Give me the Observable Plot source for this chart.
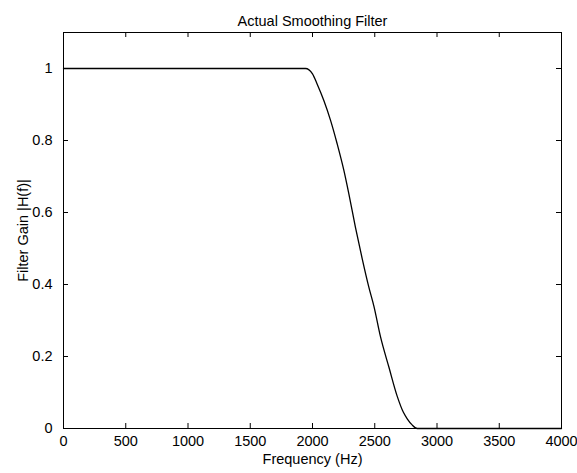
<!DOCTYPE html>
<html><head><meta charset="utf-8">
<script src="https://cdn.jsdelivr.net/npm/d3@7"></script>
<script src="https://cdn.jsdelivr.net/npm/@observablehq/plot@0.6"></script>
<style>html,body{margin:0;padding:0;background:#fff} svg{display:block}</style>
</head><body><div id="chart"></div>
<script>
const title = "Actual Smoothing Filter";
const xLabel = "Frequency (Hz)";
const yLabel = "Filter Gain |H(f)|";
const frequency = [0, 500, 1000, 1500, 1944, 2000, 2037, 2091, 2145, 2198, 2252, 2292, 2345, 2399, 2453, 2493, 2546, 2614, 2680, 2730, 2761, 2800, 2841, 3000, 3500, 4000];
const gain      = [1, 1, 1, 1, 1, 0.985, 0.957, 0.911, 0.856, 0.791, 0.717, 0.652, 0.559, 0.472, 0.392, 0.340, 0.255, 0.170, 0.090, 0.045, 0.027, 0.010, 0, 0, 0, 0];
const xTicks = [0, 500, 1000, 1500, 2000, 2500, 3000, 3500, 4000];
const yTicks = [0, 0.2, 0.4, 0.6, 0.8, 1];
const xDomain = [0, 4000];
const yDomain = [0, 1.1];

const data = frequency.map((f, i) => ({f, g: gain[i]}));
const font = "'Liberation Sans', Arial, Helvetica, sans-serif";

const chart = Plot.plot({
  width: 577, height: 473,
  marginLeft: 63, marginRight: 16, marginTop: 32, marginBottom: 45,
  style: {fontFamily: font, fontSize: "14.5px", color: "#000", background: "#fff", overflow: "visible"},
  x: {domain: xDomain, ticks: xTicks},
  y: {domain: yDomain, ticks: yTicks},
  marks: [
    Plot.frame({stroke: "#000", strokeWidth: 1}),
    Plot.ruleX(xTicks, {x: d => d, y1: yDomain[0], y2: yDomain[0], insetTop: -5, stroke: "#000"}),
    Plot.ruleX(xTicks, {x: d => d, y1: yDomain[1], y2: yDomain[1], insetBottom: -5, stroke: "#000"}),
    Plot.ruleY(yTicks, {y: d => d, x1: xDomain[0], x2: xDomain[0], insetRight: -5, stroke: "#000"}),
    Plot.ruleY(yTicks, {y: d => d, x1: xDomain[1], x2: xDomain[1], insetLeft: -5, stroke: "#000"}),
    Plot.axisX(xTicks, {tickSize: 0, tickPadding: 7, label: null, tickFormat: d => String(d)}),
    Plot.axisY(yTicks, {tickSize: 0, tickPadding: 11, label: null, tickFormat: d => String(d)}),
    Plot.line(data, {x: "f", y: "g", stroke: "#000", strokeWidth: 1.3, curve: "monotone-x"}),
    Plot.text([title], {frameAnchor: "top", dy: -17, fontSize: 14.5, fill: "#000", textAnchor: "middle"}),
    Plot.text([xLabel], {frameAnchor: "bottom", dy: 35, fontSize: 14.5, fill: "#000", textAnchor: "middle"}),
    Plot.text([yLabel], {frameAnchor: "left", dx: -40, rotate: -90, fontSize: 14.5, fill: "#000", textAnchor: "middle"})
  ]
});
document.getElementById("chart").appendChild(chart);
</script>
</body></html>
